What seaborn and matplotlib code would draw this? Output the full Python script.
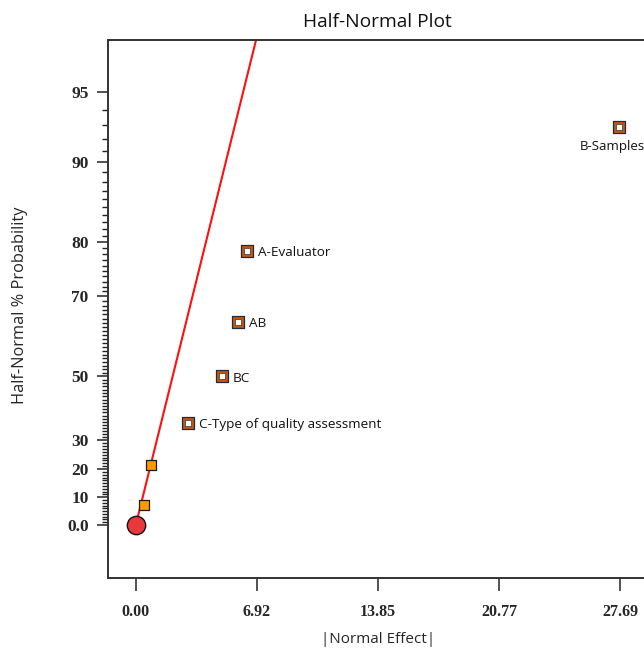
import math
from statistics import NormalDist
import numpy as np
import pandas as pd
import matplotlib
matplotlib.use("Agg")
import matplotlib.pyplot as plt
import seaborn as sns

# ---- data ----
effect_abs = [0.49, 0.86, 3.00, 4.91, 5.86, 6.34, 27.61]
half_normal_pct = [7.14, 21.43, 35.71, 50.00, 64.29, 78.57, 92.86]
effect_labels = ["", "", "C-Type of quality assessment", "BC", "AB", "A-Evaluator", "B-Samples"]
error_x = [0.0]
error_y = [0.0]
line_slope_z = 0.3198          # z-units per unit of |effect| for the red reference line
x_ticks = [0.00, 6.92, 13.85, 20.77, 27.69]
x_tick_labels = ["0.00", "6.92", "13.85", "20.77", "27.69"]
y_ticks = [0, 10, 20, 30, 50, 70, 80, 90, 95]
y_tick_labels = ["0.0", "10", "20", "30", "50", "70", "80", "90", "95"]

sns.set_style("ticks")
plt.rcParams['font.family'] = ['Open Sans', 'DejaVu Sans']

_nd = NormalDist()


def _fwd(p):
    p = np.asarray(p, dtype=float)
    q = np.clip(0.5 + p / 200.0, 1e-9, 1 - 1e-9)
    flat = [(_nd.inv_cdf(v) if np.isfinite(v) else np.nan) for v in np.ravel(q)]
    return np.array(flat, dtype=float).reshape(q.shape)


def _inv(z):
    z = np.asarray(z, dtype=float)
    flat = [(100.0 * math.erf(v / math.sqrt(2)) if np.isfinite(v) else np.nan) for v in np.ravel(z)]
    return np.array(flat, dtype=float).reshape(z.shape)


W, H = 644, 655
fig = plt.figure(figsize=(W / 100, H / 100), dpi=100)
ax_left, ax_right, ax_top, ax_bottom = 108, 660, 40, 578
ax = fig.add_axes([ax_left / W, 1 - ax_bottom / H, (ax_right - ax_left) / W, (ax_bottom - ax_top) / H])
ax.set_yscale('function', functions=(_fwd, _inv))

df = pd.DataFrame({"x": effect_abs, "p": half_normal_pct, "label": effect_labels})
df_plain = df[df["label"] == ""]
df_lab = df[df["label"] != ""]

# reference line (straight in half-normal space)
line_x = np.linspace(0, 7.3, 60)
line_p = 100.0 * np.array([math.erf(line_slope_z * v / math.sqrt(2)) for v in line_x])
sns.lineplot(x=line_x, y=line_p, color="#FF1010", linewidth=1.5, ax=ax, zorder=2, sort=False)

# unlabeled effects
sns.scatterplot(data=df_plain, x="x", y="p", marker="s", s=50, color="#FF9A00",
                edgecolor="#1a1a1a", linewidth=0.9, ax=ax, zorder=4)
# labeled (significant) effects: dark orange frame + white centre
sns.scatterplot(data=df_lab, x="x", y="p", marker="s", s=82, color="#C8560A",
                edgecolor="#1f2a44", linewidth=0.9, ax=ax, zorder=4)
sns.scatterplot(data=df_lab, x="x", y="p", marker="s", s=22, color="white",
                edgecolor="#333333", linewidth=0.5, ax=ax, zorder=5)
# error point
sns.scatterplot(x=error_x, y=error_y, marker="o", s=175, color="#E8383D",
                edgecolor="#111111", linewidth=1.0, ax=ax, zorder=6)

for _, r in df_lab.iterrows():
    if r["label"].startswith("B-"):
        ax.annotate(r["label"], (r["x"], r["p"]), xytext=(-5, -9), textcoords="offset points",
                    ha="center", va="top", fontsize=9.5, color="#111111", annotation_clip=False)
    else:
        ax.annotate(r["label"], (r["x"], r["p"]), xytext=(8, -1.5), textcoords="offset points",
                    ha="left", va="center", fontsize=9.7, color="#111111")

ax.set_xlim((ax_left - 135.8) / 17.5, (ax_right - 135.8) / 17.5)
ax.set_ylim(-18.97, 97.2)

ax.set_xticks(x_ticks)
ax.set_xticklabels(x_tick_labels, family="Liberation Serif", fontweight="bold", fontsize=11.5)
ax.set_yticks(y_ticks)
ax.set_yticklabels(y_tick_labels, family="Liberation Serif", fontweight="bold", fontsize=12.5)
minor = [v for v in range(1, 95) if v not in y_ticks]
ax.set_yticks(minor, minor=True)
ax.tick_params(axis="y", which="major", direction="out", length=8, width=1.1, pad=6, color="#222222")
ax.tick_params(axis="y", which="minor", direction="out", length=4, width=1.0, color="#222222")
ax.tick_params(axis="x", which="major", direction="out", length=9, width=1.1, pad=10, color="#222222")
ax.tick_params(axis="x", which="minor", length=0)

for s in ax.spines.values():
    s.set_linewidth(1.4)
    s.set_color("#333333")
    s.set_visible(True)

ax.set_xlabel("|Normal Effect|", fontsize=11)
ax.set_ylabel("Half-Normal % Probability", fontsize=11.8)
ax.xaxis.set_label_coords((378 - ax_left) / (ax_right - ax_left), (ax_bottom - 632) / (ax_bottom - ax_top))
ax.yaxis.set_label_coords((28 - ax_left) / (ax_right - ax_left), (ax_bottom - 305) / (ax_bottom - ax_top))

fig.text(377 / W, 1 - 22 / H, "Half-Normal Plot", ha="center", va="center", fontsize=13.8, color="#111111")

fig.savefig("out.png", dpi=100, facecolor="white")
